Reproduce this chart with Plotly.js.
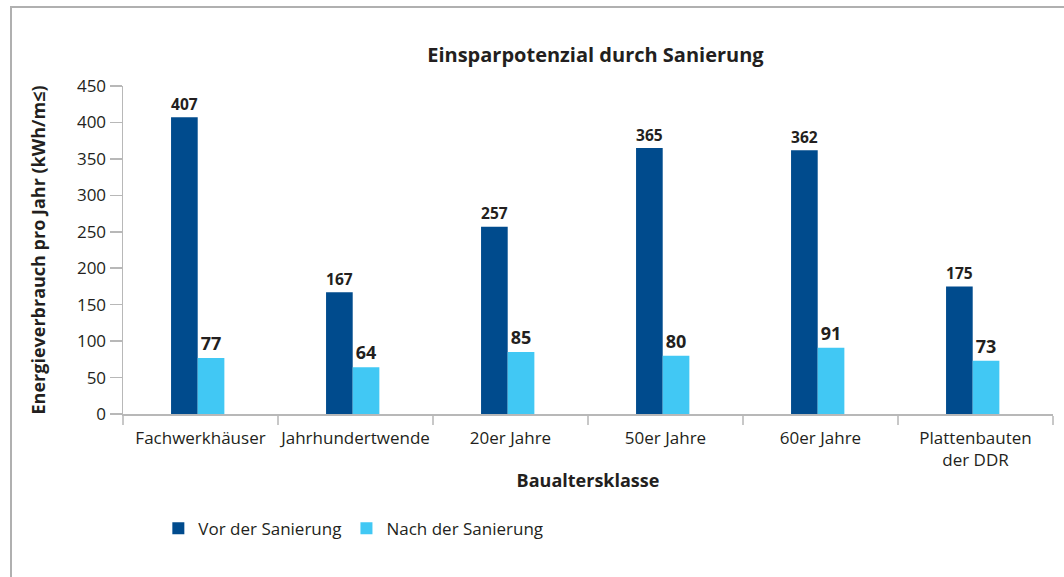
<!DOCTYPE html>
<html>
<head>
<meta charset="utf-8">
<script src="https://cdn.plot.ly/plotly-3.0.1.min.js"></script>
<style>
  html, body { margin: 0; padding: 0; background: #fff; }
  #wrap { position: relative; width: 1064px; height: 577px; }
  #chart { width: 1064px; height: 577px; }
  #frame { position: absolute; left: 10px; top: 6px; right: 0; bottom: 0;
           border-left: 2px solid #b0b0b0; border-top: 2px solid #b0b0b0; pointer-events: none; }
</style>
</head>
<body>
<div id="wrap">
  <div id="chart"></div>
  <div id="frame"></div>
</div>
<script>
const categories = ["Fachwerkhäuser", "Jahrhundertwende", "20er Jahre", "50er Jahre", "60er Jahre", "Plattenbauten<br>der DDR"];
const vorValues = [407, 167, 257, 365, 362, 175];
const nachValues = [77, 64, 85, 80, 91, 73];
const seriesNames = ["Vor der Sanierung", "Nach der Sanierung"];
const yTicks = [0, 50, 100, 150, 200, 250, 300, 350, 400, 450];

const FONT = "'Open Sans', sans-serif";
const TXT = "#231f20";

const traces = [
  {
    type: "bar", name: seriesNames[0], x: categories, y: vorValues,
    width: 0.172, offset: -0.19,
    marker: { color: "#004b8d" },
    text: vorValues.map(String), textposition: "outside", cliponaxis: false,
    textfont: { family: FONT, size: 18, color: TXT, weight: "bold" }
  },
  {
    type: "bar", name: seriesNames[1], x: categories, y: nachValues,
    width: 0.172, offset: -0.018,
    marker: { color: "#41c8f4" },
    text: nachValues.map(String), textposition: "outside", cliponaxis: false,
    textfont: { family: FONT, size: 18, color: TXT, weight: "bold" }
  }
];

const layout = {
  width: 1064, height: 577,
  margin: { l: 123, r: 11, t: 86, b: 163 },
  paper_bgcolor: "#fff", plot_bgcolor: "#fff",
  font: { family: FONT, size: 17, color: TXT },
  barmode: "group", bargap: 0.66, bargroupgap: 0,
  title: {
    text: "<b>Einsparpotenzial durch Sanierung</b>",
    font: { family: FONT, size: 20, color: TXT },
    x: 0.508, xanchor: "center", xref: "paper",
    y: 0.905, yref: "container", yanchor: "middle"
  },
  xaxis: {
    type: "category",
    showline: true, linecolor: "#b8b8b8", linewidth: 1.5,
    ticks: "outside", tickson: "boundaries", ticklen: 9, tickcolor: "#c8c8c8", tickwidth: 2,
    tickangle: 0, ticklabelstandoff: 8,
    tickfont: { family: FONT, size: 17, color: TXT },
    showgrid: false, zeroline: false,
    title: { text: "<b>Baualtersklasse</b>", font: { family: FONT, size: 18, color: TXT }, standoff: 4 }
  },
  yaxis: {
    range: [0, 450], tickvals: yTicks, ticktext: yTicks.map(String),
    showline: true, linecolor: "#b8b8b8", linewidth: 1.5,
    ticks: "outside", ticklen: 12, tickcolor: "#b8b8b8", tickwidth: 1.5,
    tickfont: { family: FONT, size: 17, color: TXT },
    showgrid: false, zeroline: false,
    title: { text: "<b>Energieverbrauch pro Jahr (kWh/m≤)</b>", font: { family: FONT, size: 18, color: TXT }, standoff: 26 }
  },
  legend: {
    orientation: "h", x: 0.038, xanchor: "left", y: -0.35, yanchor: "middle",
    font: { family: FONT, size: 17, color: TXT },
    traceorder: "normal"
  },
  showlegend: true
};

Plotly.newPlot("chart", traces, layout, { displayModeBar: false, staticPlot: true });
</script>
</body>
</html>
